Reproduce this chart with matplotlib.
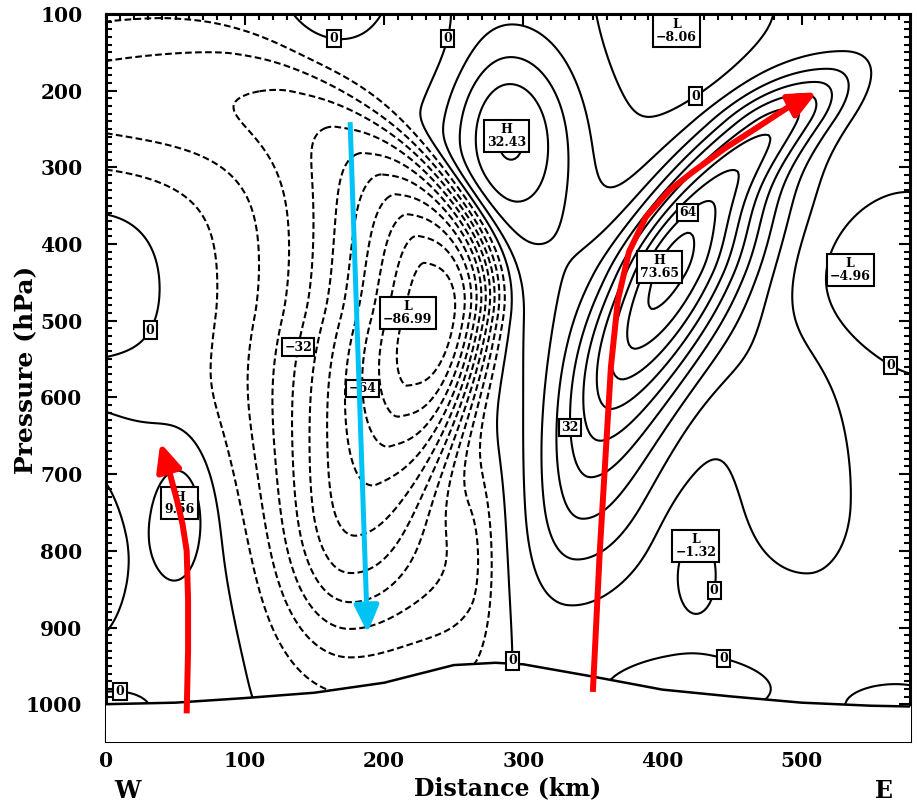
import numpy as np
import matplotlib
matplotlib.use("Agg")
import matplotlib.pyplot as plt
from matplotlib.path import Path
from matplotlib.patches import FancyArrowPatch
from matplotlib.ticker import MultipleLocator

# ---------------- data ----------------
# field components: centre (km, hPa), amplitude, left/right widths (km),
# upper/lower widths (hPa), axis shape xc = x + t1*d + t2*d^2 (d = (p - p0)/100,
# t2 taken from t2u above the centre and t2d below), shape exponents (left, right, vertical)
#            low    trough ridge  arm   ridgeLo lobe  H32   link  L-8   L-5   L-1.3 botneg brneg H9.6  edgeH posL  lowL  leftP topbump gapneg lowskirt topneg rlink lowlo
blob_x   = [228,    0,     405,   485,  345,   505,  288,  325,  410,  548,  424,  415,  565,  55,   -15,  40,   0,    0,    165,  0,     262,   232,   480,  175]
blob_p   = [495,    210,   440,   240,  740,   740,  255,  450,  115,  455,  810,  975,  1000, 745,  800,  790,  1000, 440,  95,   590,   820,   140,   570,  800]
blob_amp = [-87,    -18,   72,    35,   16,    12,   31.5, 10,   -9,   -6,   -5,   -4,   -2.5, 10,   9,    7,    -5,   5,    6,    -4,    -10,   -4,    7,    -36]
blob_sxl = [52,     120,   30,    35,   30,    40,   30,   35,   30,   35,   15,   35,   20,   14,   18,   50,   40,   32,   22,   40,    30,    25,    30,   40]
blob_sxr = [40,     120,   40,    25,   40,    30,   32,   30,   30,   45,   15,   35,   20,   14,   18,   50,   40,   32,   22,   40,    12,    25,    30,   55]
blob_spu = [170,    70,    100,   50,   120,   130,  85,   130,  70,   60,   45,   22,   15,   55,   100,  170,  30,   70,   35,   40,    110,   50,    100,  110]
blob_spd = [160,    70,    150,   90,   100,   90,   90,   130,  70,   60,   45,   22,   15,   55,   100,  170,  30,   70,   35,   40,    110,   50,    100,  110]
blob_t1  = [-11.6,  0,     -25,   -50,  -10,   0,    0,    0,    0,    0,    0,    0,    0,    0,    0,    0,    0,    0,    0,    0,     0,     0,     0,    0]
blob_t2u = [-15,    0,     4.5,   0,    0,     0,    0,    0,    0,    0,    0,    0,    0,    0,    0,    0,    0,    0,    0,    0,     0,     0,     0,    0]
blob_t2d = [-1.9,   0,     1.5,   0,    0,     0,    0,    0,    0,    0,    0,    0,    0,    0,    0,    0,    0,    0,    0,    0,     0,     0,     0,    0]
blob_qxl = [1.4,    2,     2,     2,    2,     2,    2,    2,    2,    2,    2,    2,    2,    2,    2,    2,    2,    2,    2,    2,     2,     2,     2,    2]
blob_qxr = [3.5,    2,     2,     2,    2,     2,    2,    2,    2,    2,    2,    2,    2,    2,    2,    2,    2,    2,    2,    2,     2,     2,     2,    2]
blob_qp  = [2.3,    2,     2,     2,    2,     2,    2,    2,    2,    2,    2,    2,    2,    2,    2,    2,    2,    2,    2,    2,     2,     2,     2,    2]
base_value = 0.5

levels = np.arange(-80, 80, 8)

# terrain (surface pressure along the section)
terrain_x = [0, 50, 100, 150, 200, 250, 280, 300, 350, 400, 450, 500, 550, 578]
terrain_p = [1000, 998, 992, 985, 972, 949, 946, 948, 964, 981, 990, 998, 1002, 1003]

# extrema boxes
ext_kind = ["L", "H", "H", "L", "L", "L", "H"]
ext_val  = [-86.99, 73.65, 32.43, -8.06, -4.96, -1.32, 9.56]
ext_x    = [217, 398, 288, 410, 535, 424, 53]
ext_p    = [490, 430, 259, 122, 434, 794, 738]

# contour labels: (level, x, p)
clab_level = [0, 0, 0, 0, 0, 0, 0, 0, 0, -32, -64, 32, 64]
clab_x     = [165, 262, 22, 419, 565, 433, 440, 288, 12, 132, 193, 325, 413]
clab_p     = [130, 138, 503, 190, 555, 851, 972, 942, 953, 531, 588, 640, 347]

# arrows (paths)
red1_x = [58, 59, 59, 58, 55, 51, 46, 39]
red1_p = [1012, 930, 864, 800, 765, 734, 700, 659]
red2_x = [350, 355, 360, 363, 368, 376, 388, 405, 421, 445, 469, 490, 511]
red2_p = [984, 800, 650, 560, 473, 410, 365, 330, 307, 275, 247, 222, 202]
cyan_x = [175.5, 188]
cyan_p = [241, 907]

# ---------------- field ----------------
xg = np.linspace(0, 578, 290)
pg = np.linspace(100, 1048, 300)
X, P = np.meshgrid(xg, pg)
F = np.full_like(X, base_value)
for i in range(len(blob_x)):
    dp = P - blob_p[i]
    d = dp / 100.0
    t2 = np.where(d < 0, blob_t2u[i], blob_t2d[i])
    xc = blob_x[i] + blob_t1[i] * d + t2 * d ** 2
    dx = X - xc
    left = dx < 0
    sx = np.where(left, blob_sxl[i], blob_sxr[i])
    qx = np.where(left, blob_qxl[i], blob_qxr[i])
    sp = np.where(dp < 0, blob_spu[i], blob_spd[i])
    F += blob_amp[i] * np.exp(-0.5 * np.abs(dx / sx) ** qx) * np.exp(-0.5 * np.abs(dp / sp) ** blob_qp[i])

# ---------------- plot ----------------
fig = plt.figure(figsize=(9.18, 8.10), dpi=100)
ax = fig.add_axes([106 / 918, 1 - 741 / 810, (910 - 106) / 918, (741 - 14) / 810])

ls = [(0, (3.2, 1.6)) if l < 0 else "solid" for l in levels]
cs = ax.contour(X, P, F, levels=levels, colors="k", linewidths=1.5, linestyles=ls)

def fmt(v):
    return f"{v:.0f}".replace("-", "\u2212")

box = dict(boxstyle="square,pad=0.18", fc="white", ec="black", lw=1.5)
lev_list = list(levels)
for lev, x0, p0 in zip(clab_level, clab_x, clab_p):
    segs = cs.allsegs[lev_list.index(lev)]
    best, bd = None, 1e18
    for s in segs:
        if len(s) == 0:
            continue
        d2 = ((s[:, 0] - x0) * 1.39) ** 2 + ((s[:, 1] - p0) * 0.767) ** 2
        j = np.argmin(d2)
        if d2[j] < bd:
            bd, best = d2[j], s[j]
    if best is None:
        best = (x0, p0)
    ax.text(best[0], best[1], fmt(lev), ha="center", va="center", fontsize=9,
            family="DejaVu Serif", weight="bold", zorder=5, bbox=box)

# terrain
ax.fill_between(terrain_x, terrain_p, 1100, color="white", zorder=3)
ax.plot(terrain_x, terrain_p, color="k", lw=1.8, zorder=4)

for k, v, x, p in zip(ext_kind, ext_val, ext_x, ext_p):
    ax.text(x, p, f"{k}\n{v:.2f}".replace("-", "\u2212"), ha="center", va="center",
            fontsize=9, family="DejaVu Serif", weight="bold", linespacing=0.95, zorder=5,
            bbox=dict(boxstyle="square,pad=0.25", fc="white", ec="black", lw=1.5))

def arrow(xs, ps, color, lw, hl, hw):
    verts = list(zip(xs, ps))
    codes = [Path.MOVETO] + [Path.LINETO] * (len(verts) - 1)
    a = FancyArrowPatch(path=Path(verts, codes),
                        arrowstyle=f"-|>,head_length={hl},head_width={hw}",
                        color=color, lw=lw, mutation_scale=30, zorder=6,
                        joinstyle="round", capstyle="butt")
    ax.add_patch(a)

arrow(red1_x, red1_p, "#ff0000", 4.3, 0.55, 0.25)
arrow(red2_x, red2_p, "#ff0000", 4.3, 0.55, 0.25)
arrow(cyan_x, cyan_p, "#00c3f5", 3.6, 0.55, 0.25)

ax.set_xlim(0, 578)
ax.set_ylim(1048, 100)
ax.xaxis.set_minor_locator(MultipleLocator(10))
ax.yaxis.set_major_locator(MultipleLocator(100))
ax.yaxis.set_minor_locator(MultipleLocator(10))
ax.set_xticks(range(0, 501, 100))
ax.tick_params(which="both", direction="in", top=True, right=True, width=1.5)
ax.tick_params(which="major", length=8)
ax.tick_params(which="minor", length=4)
ax.tick_params(axis="y", which="major", pad=17)
ax.tick_params(axis="x", which="major", pad=7)
for lab in ax.get_xticklabels() + ax.get_yticklabels():
    lab.set_fontfamily("DejaVu Serif")
    lab.set_fontweight("bold")
    lab.set_fontsize(14.5)
for s in ax.spines.values():
    s.set_linewidth(2.2)

ax.set_xlabel("Distance (km)", fontsize=17, family="DejaVu Serif", weight="bold", labelpad=4)
ax.set_ylabel("Pressure (hPa)", fontsize=18, family="DejaVu Serif", weight="bold", labelpad=4)
ax.yaxis.set_label_coords(-0.085, 0.51)
fig.text(127 / 918, 1 - 791 / 810, "W", ha="center", va="center", fontsize=17,
         family="DejaVu Serif", weight="bold")
fig.text(884 / 918, 1 - 791 / 810, "E", ha="center", va="center", fontsize=17,
         family="DejaVu Serif", weight="bold")

fig.savefig("out.png", dpi=100)
